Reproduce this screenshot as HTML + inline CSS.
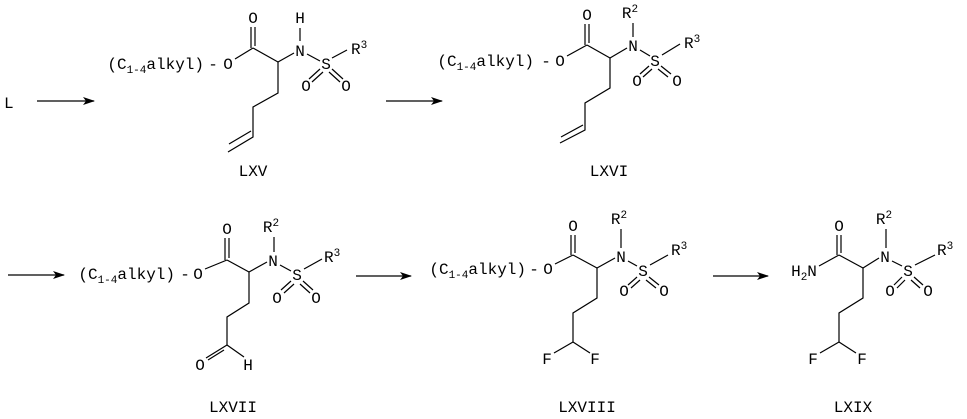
<!DOCTYPE html>
<html><head><meta charset="utf-8"><style>
html,body{margin:0;padding:0;background:#fff;}
svg{display:block;}
text{font-family:"Liberation Mono","DejaVu Sans Mono",monospace;font-size:16px;fill:#000;}
.s{font-size:11px;}
line,polyline{stroke:#000;stroke-width:1.2;fill:none;}
</style></head><body>
<svg width="967" height="419" viewBox="0 0 967 419" xmlns="http://www.w3.org/2000/svg">
<defs>
<marker id="ah" markerWidth="12" markerHeight="8" refX="11" refY="4" orient="auto" markerUnits="userSpaceOnUse">
<path d="M0,0 L12,4 L0,8 L3,4 Z" fill="#000"/>
</marker>
</defs>
<text x="4" y="108">L</text>
<line x1="37" y1="101" x2="94" y2="101" marker-end="url(#ah)"/>
<line x1="386" y1="101" x2="442" y2="101" marker-end="url(#ah)"/>
<line x1="8" y1="275" x2="64" y2="275" marker-end="url(#ah)"/>
<line x1="356" y1="276" x2="411" y2="276" marker-end="url(#ah)"/>
<line x1="713" y1="276" x2="768" y2="276" marker-end="url(#ah)"/>

<!-- LXV -->
<g>
<text x="204" y="69" text-anchor="end">(C<tspan class="s" dy="4">1-4</tspan><tspan dy="-4">alkyl)</tspan></text>
<text x="213" y="69" text-anchor="middle">-</text>
<text x="228" y="69" text-anchor="middle">O</text>
<line x1="235" y1="59" x2="253" y2="48"/>
<text x="253" y="23" text-anchor="middle">O</text>
<line x1="251" y1="27" x2="251" y2="48"/><line x1="255" y1="27" x2="255" y2="46"/>
<line x1="253" y1="48" x2="278" y2="62"/>
<line x1="278" y1="62" x2="294" y2="53"/>
<text x="300" y="56" text-anchor="middle">N</text>
<text x="300" y="23" text-anchor="middle">H</text>
<line x1="300" y1="28" x2="300" y2="41"/>
<line x1="307" y1="54" x2="320" y2="61"/>
<text x="326" y="69" text-anchor="middle">S</text>
<line x1="332" y1="58" x2="347" y2="50"/>
<text x="351" y="54">R<tspan class="s" dy="-6">3</tspan></text>
<line x1="320" y1="69" x2="309" y2="79"/><line x1="323" y1="72" x2="312" y2="82"/>
<line x1="332" y1="69" x2="343" y2="79"/><line x1="329" y1="72" x2="340" y2="82"/>
<text x="306" y="91" text-anchor="middle">O</text>
<text x="346" y="91" text-anchor="middle">O</text>
<polyline points="278,62 278,93 253,107 253,137 228,152"/>
<line x1="251" y1="131" x2="229" y2="144"/>
<text x="253" y="176" text-anchor="middle">LXV</text>
</g>

<!-- LXVI -->
<g>
<text x="534" y="66" text-anchor="end">(C<tspan class="s" dy="4">1-4</tspan><tspan dy="-4">alkyl)</tspan></text>
<text x="546" y="66" text-anchor="middle">-</text>
<text x="560" y="66" text-anchor="middle">O</text>
<line x1="567" y1="56" x2="587" y2="45"/>
<text x="587" y="20" text-anchor="middle">O</text>
<line x1="585" y1="24" x2="585" y2="45"/><line x1="589" y1="24" x2="589" y2="43"/>
<line x1="587" y1="45" x2="610" y2="58"/>
<line x1="610" y1="58" x2="627" y2="48"/>
<text x="633" y="51" text-anchor="middle">N</text>
<text x="630" y="18" text-anchor="middle">R<tspan class="s" dy="-6">2</tspan></text>
<line x1="633" y1="23" x2="633" y2="37"/>
<line x1="640" y1="50" x2="650" y2="56"/>
<text x="655" y="66" text-anchor="middle">S</text>
<line x1="662" y1="55" x2="680" y2="44"/>
<text x="684" y="48">R<tspan class="s" dy="-6">3</tspan></text>
<line x1="649" y1="66" x2="640" y2="74"/><line x1="652" y1="69" x2="643" y2="77"/>
<line x1="661" y1="66" x2="671" y2="74"/><line x1="658" y1="69" x2="668" y2="77"/>
<text x="637" y="86" text-anchor="middle">O</text>
<text x="677" y="86" text-anchor="middle">O</text>
<polyline points="610,58 610,88 585,103 585,130 560,143"/>
<line x1="583" y1="125" x2="561" y2="137"/>
<text x="609" y="176" text-anchor="middle">LXVI</text>
</g>

<!-- LXVII -->
<g>
<text x="175" y="279" text-anchor="end">(C<tspan class="s" dy="4">1-4</tspan><tspan dy="-4">alkyl)</tspan></text>
<text x="185" y="279" text-anchor="middle">-</text>
<text x="198" y="279" text-anchor="middle">O</text>
<line x1="205" y1="269" x2="227" y2="260"/>
<text x="227" y="234" text-anchor="middle">O</text>
<line x1="225" y1="238" x2="225" y2="260"/><line x1="229" y1="238" x2="229" y2="258"/>
<line x1="227" y1="260" x2="249" y2="272"/>
<line x1="249" y1="272" x2="267" y2="262"/>
<text x="273" y="266" text-anchor="middle">N</text>
<text x="271" y="232" text-anchor="middle">R<tspan class="s" dy="-6">2</tspan></text>
<line x1="274" y1="237" x2="274" y2="252"/>
<line x1="280" y1="265" x2="291" y2="271"/>
<text x="297" y="280" text-anchor="middle">S</text>
<line x1="304" y1="269" x2="322" y2="259"/>
<text x="324" y="262">R<tspan class="s" dy="-6">3</tspan></text>
<line x1="291" y1="281" x2="281" y2="290"/><line x1="294" y1="284" x2="284" y2="293"/>
<line x1="303" y1="281" x2="313" y2="290"/><line x1="300" y1="284" x2="310" y2="293"/>
<text x="277" y="303" text-anchor="middle">O</text>
<text x="316" y="303" text-anchor="middle">O</text>
<polyline points="249,272 249,303 227,317 227,345"/>
<line x1="227" y1="345" x2="206" y2="358"/><line x1="224" y1="350" x2="208" y2="360"/>
<line x1="227" y1="345" x2="244" y2="357"/>
<text x="200" y="370" text-anchor="middle">O</text>
<text x="248" y="370" text-anchor="middle">H</text>
<text x="233" y="412" text-anchor="middle">LXVII</text>
</g>

<!-- LXVIII -->
<g>
<text x="526" y="274" text-anchor="end">(C<tspan class="s" dy="4">1-4</tspan><tspan dy="-4">alkyl)</tspan></text>
<text x="534" y="274" text-anchor="middle">-</text>
<text x="548" y="274" text-anchor="middle">O</text>
<line x1="555" y1="264" x2="573" y2="255"/>
<text x="573" y="231" text-anchor="middle">O</text>
<line x1="571" y1="235" x2="571" y2="255"/><line x1="575" y1="235" x2="575" y2="253"/>
<line x1="573" y1="255" x2="597" y2="268"/>
<line x1="597" y1="268" x2="615" y2="258"/>
<text x="621" y="262" text-anchor="middle">N</text>
<text x="619" y="224" text-anchor="middle">R<tspan class="s" dy="-6">2</tspan></text>
<line x1="621" y1="229" x2="621" y2="248"/>
<line x1="628" y1="261" x2="637" y2="266"/>
<text x="643" y="276" text-anchor="middle">S</text>
<line x1="650" y1="265" x2="668" y2="255"/>
<text x="671" y="255">R<tspan class="s" dy="-6">3</tspan></text>
<line x1="637" y1="277" x2="628" y2="285"/><line x1="640" y1="280" x2="631" y2="288"/>
<line x1="649" y1="277" x2="659" y2="285"/><line x1="646" y1="280" x2="656" y2="288"/>
<text x="624" y="296" text-anchor="middle">O</text>
<text x="664" y="296" text-anchor="middle">O</text>
<polyline points="597,268 597,298 573,313 573,342"/>
<line x1="573" y1="342" x2="554" y2="353"/><line x1="573" y1="342" x2="590" y2="353"/>
<text x="547" y="364" text-anchor="middle">F</text>
<text x="595" y="364" text-anchor="middle">F</text>
<text x="587" y="412" text-anchor="middle">LXVIII</text>
</g>

<!-- LXIX -->
<g>
<text x="804" y="276" text-anchor="middle">H<tspan class="s" dy="4">2</tspan><tspan dy="-4">N</tspan></text>
<line x1="819" y1="266" x2="839" y2="255"/>
<text x="839" y="231" text-anchor="middle">O</text>
<line x1="837" y1="235" x2="837" y2="255"/><line x1="841" y1="235" x2="841" y2="253"/>
<line x1="839" y1="255" x2="863" y2="268"/>
<line x1="863" y1="268" x2="879" y2="258"/>
<text x="885" y="262" text-anchor="middle">N</text>
<text x="884" y="224" text-anchor="middle">R<tspan class="s" dy="-6">2</tspan></text>
<line x1="886" y1="229" x2="886" y2="248"/>
<line x1="892" y1="261" x2="902" y2="266"/>
<text x="908" y="276" text-anchor="middle">S</text>
<line x1="915" y1="265" x2="935" y2="255"/>
<text x="937" y="255">R<tspan class="s" dy="-6">3</tspan></text>
<line x1="902" y1="277" x2="894" y2="285"/><line x1="905" y1="280" x2="897" y2="288"/>
<line x1="914" y1="277" x2="923" y2="285"/><line x1="911" y1="280" x2="920" y2="288"/>
<text x="890" y="296" text-anchor="middle">O</text>
<text x="928" y="296" text-anchor="middle">O</text>
<polyline points="863,268 863,298 839,313 839,342"/>
<line x1="839" y1="342" x2="820" y2="353"/><line x1="839" y1="342" x2="856" y2="353"/>
<text x="813" y="364" text-anchor="middle">F</text>
<text x="862" y="364" text-anchor="middle">F</text>
<text x="853" y="412" text-anchor="middle">LXIX</text>
</g>
</svg>
</body></html>
